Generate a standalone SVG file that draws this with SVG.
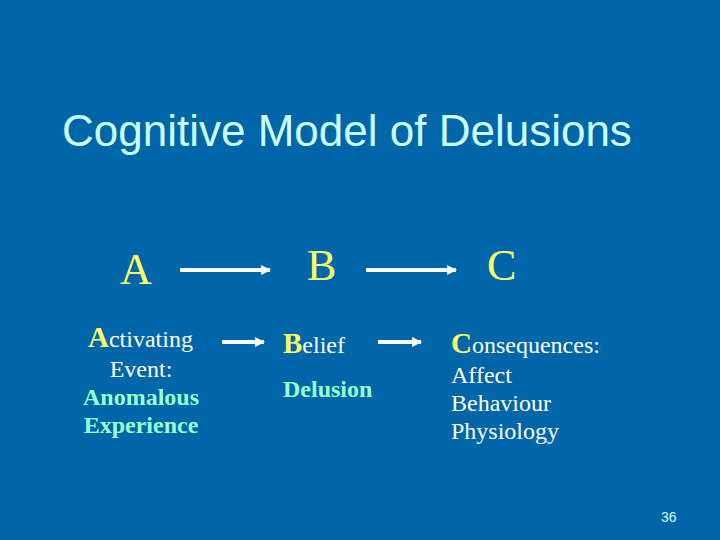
<svg xmlns="http://www.w3.org/2000/svg" width="720" height="540" viewBox="0 0 720 540">
<defs>
<style>
.title{font-family:"Liberation Sans",Arial,sans-serif;font-size:44px;fill:#CCFFFF}
.big{font-family:"Liberation Serif","Times New Roman",serif;font-size:44px;fill:#FFFF66}
.ser{font-family:"Liberation Serif","Times New Roman",serif;font-size:24px;fill:#FFFFFF}
.cap{fill:#FFFF66;font-size:29px;font-weight:bold}
.grn{font-family:"Liberation Serif","Times New Roman",serif;font-size:24px;font-weight:bold;fill:#99FFCC}
.num{font-family:"Liberation Sans",Arial,sans-serif;font-size:14px;fill:#CCFFFF}
.arr{stroke:#FFFFFF;stroke-width:4;fill:none}
</style>
<marker id="ah" viewBox="0 0 10 10" refX="9" refY="5" markerWidth="2.5" markerHeight="2.5" orient="auto" markerUnits="strokeWidth">
<path d="M0,0 L10,5 L0,10 z" fill="#FFFFFF"/>
</marker>
</defs>
<rect width="720" height="540" fill="#0066AA"/>
<text class="title" x="62" y="146">Cognitive Model of Delusions</text>
<g id="A"><text class="big" x="120" y="284">A</text></g>
<g id="B"><text class="big" x="307" y="280">B</text></g>
<g id="C"><text class="big" x="487" y="280">C</text></g>
<g id="activating">
<text class="ser" x="88" y="347"><tspan class="cap">A</tspan>ctivating</text>
<text class="ser" x="141" y="377" text-anchor="middle">Event:</text>
<text class="grn" x="141" y="405" text-anchor="middle">Anomalous</text>
<text class="grn" x="141" y="433" text-anchor="middle">Experience</text>
</g>
<g id="belief">
<text class="ser" x="283" y="353"><tspan class="cap">B</tspan>elief</text>
<text class="grn" x="283" y="397">Delusion</text>
</g>
<g id="consequences">
<text class="ser" x="451" y="353"><tspan class="cap" font-weight="normal">C</tspan>onsequences:</text>
<text class="ser" x="451" y="383">Affect</text>
<text class="ser" x="451" y="411">Behaviour</text>
<text class="ser" x="451" y="439">Physiology</text>
</g>
<g id="connectors">
<line class="arr" x1="180" y1="270" x2="270" y2="270" marker-end="url(#ah)"/>
<line class="arr" x1="366" y1="270" x2="456" y2="270" marker-end="url(#ah)"/>
<line class="arr" x1="222" y1="342" x2="264" y2="342" marker-end="url(#ah)"/>
<line class="arr" x1="378" y1="342" x2="421" y2="342" marker-end="url(#ah)"/>
</g>
<text class="num" x="661" y="522">36</text>
</svg>
